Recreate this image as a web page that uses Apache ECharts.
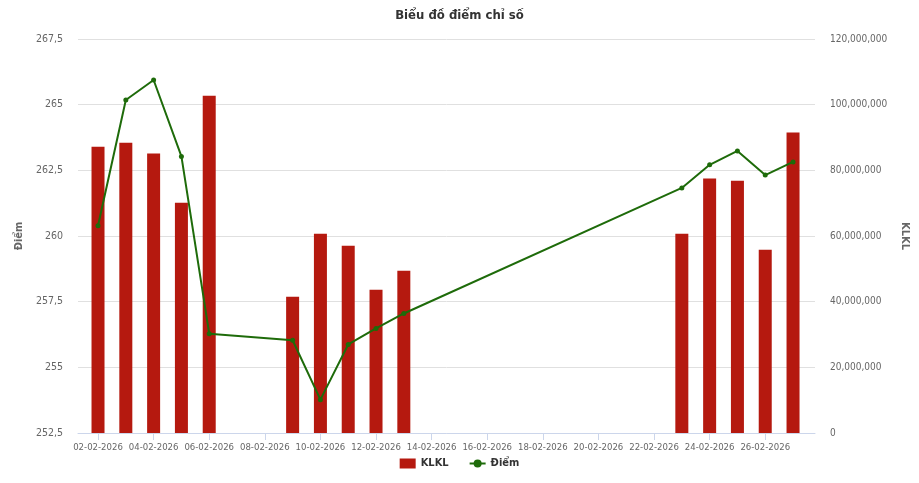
<!DOCTYPE html>
<html>
<head>
<meta charset="utf-8">
<script src="https://cdn.jsdelivr.net/npm/echarts@6/dist/echarts.min.js"></script>
<style>
html,body{margin:0;padding:0;background:#fff;}
#main{width:919px;height:483px;}
</style>
</head>
<body>
<div id="main"></div>
<script>
var FONT = "'DejaVu Sans Condensed','Liberation Sans Narrow',sans-serif";

// ngày giao dịch
var dates = ['02-02-2026','03-02-2026','04-02-2026','05-02-2026','06-02-2026',
  '09-02-2026','10-02-2026','11-02-2026','12-02-2026','13-02-2026',
  '23-02-2026','24-02-2026','25-02-2026','26-02-2026','27-02-2026'];
// khối lượng khớp lệnh
var klkl = [87200000, 88400000, 85100000, 70100000, 102700000,
  41500000, 60700000, 57000000, 43600000, 49400000,
  60700000, 77500000, 76800000, 55800000, 91500000];
// điểm chỉ số
var diem = [260.39, 265.18, 265.94, 263.03, 256.28,
  256.03, 253.77, 255.87, 256.48, 257.05,
  261.83, 262.71, 263.24, 262.32, 262.82];
// nhãn trục ngang
var tickDates = ['02-02-2026','04-02-2026','06-02-2026','08-02-2026','10-02-2026','12-02-2026',
  '14-02-2026','16-02-2026','18-02-2026','20-02-2026','22-02-2026','24-02-2026','26-02-2026'];

function dayOf(s){
  var p = s.split('-');
  return Date.UTC(+p[2], +p[1]-1, +p[0]) / 86400000;
}
var day0 = dayOf(dates[0]);
function xOf(s){ return dayOf(s) - day0; }
function labelOf(v){
  var d = new Date((day0 + Math.round(v)) * 86400000);
  var dd = ('0' + d.getUTCDate()).slice(-2), mm = ('0' + (d.getUTCMonth()+1)).slice(-2);
  return dd + '-' + mm + '-' + d.getUTCFullYear();
}

var tickX = tickDates.map(xOf);
var barData = dates.map(function(d,i){ return [xOf(d), klkl[i]]; });
var lineData = dates.map(function(d,i){ return [xOf(d), diem[i]]; });

var chart = echarts.init(document.getElementById('main'));

var option = {
  animation:false,
  textStyle:{fontFamily:FONT},
  title:{
    text:'Biểu đồ điểm chỉ số',
    left:'center',
    top:4,
    textStyle:{fontFamily:FONT,fontSize:13,fontWeight:'bold',color:'#333333'}
  },
  legend:{
    bottom:9,
    left:'center',
    itemGap:20,
    itemWidth:16,
    itemHeight:10,
    textStyle:{fontFamily:FONT,fontSize:11,fontWeight:'bold',color:'#333333'},
    data:[{name:'KLKL',icon:'rect'},{name:'Điểm'}]
  },
  grid:{left:78,right:104,top:39,bottom:50,containLabel:false,outerBoundsMode:'none'},
  xAxis:{
    type:'value',
    min:-0.72,
    max:25.79,
    splitLine:{show:false},
    axisLine:{show:true,lineStyle:{color:'#ccd6eb'}},
    axisTick:{show:true,customValues:tickX,length:7,lineStyle:{color:'#ccd6eb'}},
    axisLabel:{
      customValues:tickX,
      showMinLabel:true,
      showMaxLabel:true,
      hideOverlap:false,
      color:'#666666',
      fontFamily:FONT,
      fontSize:9.5,
      margin:10,
      formatter:function(v){ return labelOf(v); }
    }
  },
  yAxis:[
    {
      type:'value',
      name:'Điểm',
      nameLocation:'middle',
      nameGap:53,
      nameTextStyle:{fontFamily:FONT,fontSize:11,fontWeight:'bold',color:'#666666'},
      min:252.5,
      max:267.5,
      interval:2.5,
      axisLine:{show:false},
      axisTick:{show:false},
      splitLine:{lineStyle:{color:'#e0e0e0'}},
      axisLabel:{
        color:'#666666',fontFamily:FONT,fontSize:10.5,margin:15,
        formatter:function(v){ return String(v).replace('.', ','); }
      }
    },
    {
      type:'value',
      name:'KLKL',
      nameLocation:'middle',
      nameGap:84,
      nameRotate:-90,
      nameTextStyle:{fontFamily:FONT,fontSize:11,fontWeight:'bold',color:'#666666'},
      min:0,
      max:120000000,
      interval:20000000,
      position:'right',
      axisLine:{show:false},
      axisTick:{show:false},
      splitLine:{show:false},
      axisLabel:{
        color:'#666666',fontFamily:FONT,fontSize:10,margin:15,
        formatter:function(v){ return v.toString().replace(/\B(?=(\d{3})+(?!\d))/g, ','); }
      }
    }
  ],
  series:[
    {
      name:'KLKL',
      type:'bar',
      yAxisIndex:1,
      barWidth:13,
      itemStyle:{color:'#b5190f'},
      data:barData
    },
    {
      name:'Điểm',
      type:'line',
      yAxisIndex:0,
      symbol:'circle',
      symbolSize:5,
      lineStyle:{color:'#1e6b0a',width:2},
      itemStyle:{color:'#1e6b0a'},
      data:lineData
    }
  ]
};

chart.setOption(option);
</script>
</body>
</html>
